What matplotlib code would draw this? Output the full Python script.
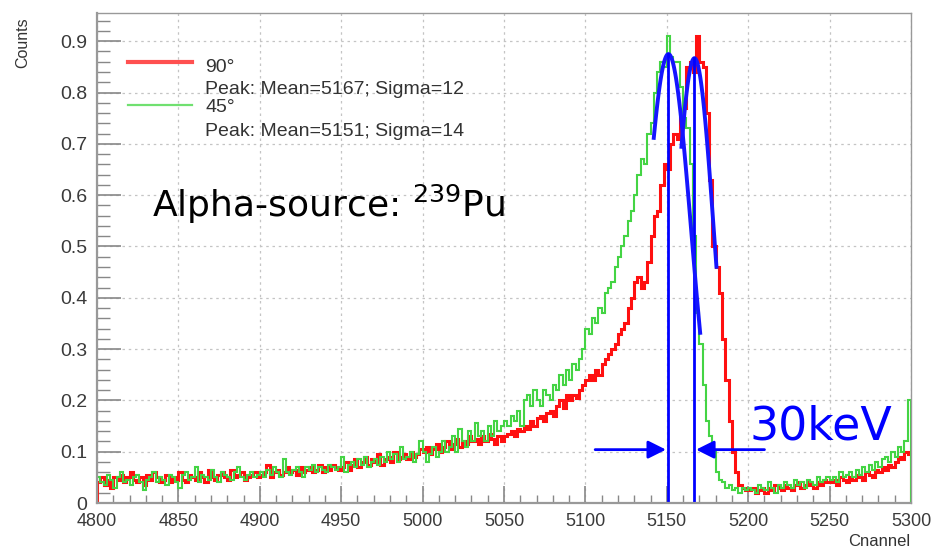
import numpy as np
import matplotlib
matplotlib.use("Agg")
import matplotlib.pyplot as plt

# histogram: 2-channel bins from 4800 to 5300
edges = np.arange(4800, 5302, 2)

# 45 degree spectrum (green)
green = [
    0.05, 0.04, 0.035, 0.055, 0.045, 0.03, 0.05, 0.06, 0.04, 0.045, 0.035, 0.05, 0.055, 0.04, 0.025, 0.045, 0.05, 0.06, 0.04, 0.05, 0.045, 0.035, 0.055, 0.05, 0.04,
    0.03, 0.055, 0.06, 0.045, 0.05, 0.07, 0.04, 0.055, 0.05, 0.045, 0.065, 0.05, 0.04, 0.06, 0.055, 0.05, 0.045, 0.06, 0.07, 0.05, 0.045, 0.055, 0.06, 0.05, 0.055,
    0.06, 0.05, 0.065, 0.055, 0.07, 0.06, 0.05, 0.085, 0.06, 0.055, 0.065, 0.07, 0.06, 0.05, 0.07, 0.065, 0.075, 0.06, 0.07, 0.065, 0.06, 0.075, 0.07, 0.065, 0.07,
    0.09, 0.06, 0.075, 0.08, 0.07, 0.085, 0.075, 0.09, 0.07, 0.08, 0.085, 0.075, 0.09, 0.08, 0.1, 0.085, 0.095, 0.08, 0.11, 0.085, 0.09, 0.1, 0.08, 0.095, 0.12,
    0.1, 0.08, 0.095, 0.11, 0.09, 0.1, 0.12, 0.1, 0.11, 0.13, 0.1, 0.145, 0.12, 0.11, 0.14, 0.12, 0.155, 0.13, 0.14, 0.12, 0.15, 0.13, 0.16, 0.14, 0.15,
    0.16, 0.15, 0.17, 0.16, 0.18, 0.15, 0.2, 0.21, 0.19, 0.22, 0.2, 0.19, 0.22, 0.21, 0.2, 0.23, 0.22, 0.25, 0.23, 0.26, 0.24, 0.27, 0.26, 0.28, 0.3,
    0.34, 0.33, 0.36, 0.35, 0.38, 0.37, 0.41, 0.42, 0.43, 0.46, 0.48, 0.5, 0.52, 0.55, 0.57, 0.6, 0.64, 0.67, 0.66, 0.72, 0.74, 0.8, 0.84, 0.86, 0.85,
    0.91, 0.87, 0.86, 0.86, 0.81, 0.75, 0.73, 0.66, 0.52, 0.37, 0.31, 0.23, 0.16, 0.13, 0.1, 0.06, 0.045, 0.04, 0.03, 0.035, 0.025, 0.03, 0.02, 0.03, 0.025,
    0.03, 0.025, 0.02, 0.035, 0.03, 0.025, 0.04, 0.03, 0.02, 0.035, 0.03, 0.04, 0.035, 0.03, 0.045, 0.035, 0.04, 0.03, 0.045, 0.04, 0.035, 0.05, 0.04, 0.045, 0.05,
    0.045, 0.05, 0.04, 0.06, 0.05, 0.055, 0.06, 0.05, 0.065, 0.055, 0.07, 0.06, 0.075, 0.065, 0.08, 0.07, 0.085, 0.09, 0.08, 0.1, 0.09, 0.11, 0.1, 0.12, 0.2,
]

# 90 degree spectrum (red)
red = [
    0.04, 0.05, 0.035, 0.045, 0.03, 0.05, 0.045, 0.055, 0.04, 0.05, 0.06, 0.045, 0.04, 0.05, 0.035, 0.055, 0.045, 0.06, 0.05, 0.04, 0.045, 0.055, 0.04, 0.05, 0.045,
    0.06, 0.045, 0.04, 0.055, 0.05, 0.045, 0.06, 0.05, 0.04, 0.065, 0.05, 0.045, 0.055, 0.06, 0.05, 0.045, 0.065, 0.05, 0.055, 0.06, 0.045, 0.05, 0.055, 0.06, 0.05,
    0.055, 0.06, 0.075, 0.05, 0.06, 0.065, 0.055, 0.06, 0.07, 0.06, 0.065, 0.055, 0.07, 0.06, 0.065, 0.07, 0.06, 0.065, 0.075, 0.06, 0.07, 0.065, 0.075, 0.07, 0.065,
    0.07, 0.08, 0.065, 0.075, 0.085, 0.07, 0.08, 0.09, 0.075, 0.085, 0.08, 0.095, 0.075, 0.085, 0.09, 0.08, 0.1, 0.085, 0.09, 0.095, 0.085, 0.1, 0.09, 0.095, 0.105,
    0.1, 0.11, 0.095, 0.105, 0.115, 0.1, 0.11, 0.12, 0.105, 0.115, 0.125, 0.11, 0.12, 0.115, 0.13, 0.12, 0.125, 0.115, 0.13, 0.12, 0.135, 0.125, 0.115, 0.13, 0.12,
    0.13, 0.135, 0.14, 0.13, 0.145, 0.14, 0.15, 0.145, 0.16, 0.15, 0.165, 0.17, 0.16, 0.175, 0.18, 0.17, 0.19, 0.2, 0.185, 0.21, 0.2, 0.21, 0.205, 0.22, 0.23,
    0.24, 0.25, 0.24, 0.26, 0.25, 0.27, 0.28, 0.29, 0.3, 0.31, 0.33, 0.34, 0.35, 0.38, 0.4, 0.43, 0.44, 0.42, 0.43, 0.47, 0.52, 0.56, 0.57, 0.62, 0.66,
    0.65, 0.7, 0.72, 0.71, 0.75, 0.77, 0.85, 0.86, 0.84, 0.91, 0.86, 0.85, 0.76, 0.63, 0.5, 0.46, 0.41, 0.32, 0.24, 0.16, 0.1, 0.06, 0.035, 0.03, 0.025,
    0.025, 0.03, 0.02, 0.025, 0.03, 0.02, 0.03, 0.025, 0.035, 0.03, 0.025, 0.035, 0.03, 0.025, 0.035, 0.04, 0.03, 0.035, 0.04, 0.035, 0.03, 0.04, 0.035, 0.045, 0.04,
    0.04, 0.045, 0.035, 0.05, 0.045, 0.04, 0.05, 0.045, 0.055, 0.05, 0.045, 0.06, 0.055, 0.05, 0.065, 0.06, 0.07, 0.065, 0.075, 0.07, 0.08, 0.09, 0.085, 0.1, 0.095,
]

# gaussian fits: mean, sigma, amplitude, fit range
fit_mean = [5167, 5151]
fit_sigma = [12, 14]
fit_amp = [0.867, 0.875]
fit_range = [(5159, 5180.5), (5142, 5170.5)]

xticks = [4800, 4850, 4900, 4950, 5000, 5050, 5100, 5150, 5200, 5250, 5300]
yticks = [0, 0.1, 0.2, 0.3, 0.4, 0.5, 0.6, 0.7, 0.8, 0.9]
ylabels = ["0", "0.1", "0.2", "0.3", "0.4", "0.5", "0.6", "0.7", "0.8", "0.9"]

W, H = 935, 548
fig = plt.figure(figsize=(W / 100, H / 100), dpi=100)
ax = fig.add_axes([97 / W, 45 / H, 814 / W, 490 / H])

ax.stairs(red, edges, color="#ff1010", lw=2.2)
ax.stairs(green, edges, color="#44d444", lw=1.5)

for m, s, a, (lo, hi) in zip(fit_mean, fit_sigma, fit_amp, fit_range):
    xf = np.linspace(lo, hi, 100)
    ax.plot(xf, a * np.exp(-0.5 * ((xf - m) / s) ** 2), color="#1515ff", lw=2.8)
    ax.plot([m, m], [0, a], color="#0000ff", lw=2)

# 30 keV arrows
arr = dict(arrowstyle="-|>,head_length=0.9,head_width=0.45", mutation_scale=12,
           color="#0000ff", lw=2, shrinkA=0, shrinkB=0)
ax.annotate("", xy=(5149.5, 0.104), xytext=(5106, 0.104), arrowprops=arr)
ax.annotate("", xy=(5168, 0.104), xytext=(5210, 0.104), arrowprops=arr)

ax.text(5201, 0.1235, "30keV", color="#0000ff", fontsize=33,
        family="DejaVu Sans", va="baseline", ha="left")
ax.text(4834, 0.558, r"Alpha-source: $^{239}$Pu", color="black", fontsize=26,
        family="DejaVu Sans", va="baseline", ha="left")

ax.set_xlim(4800, 5300)
ax.set_ylim(0, 0.955)
ax.set_xticks(xticks)
ax.set_xticklabels([str(t) for t in xticks])
ax.set_yticks(yticks)
ax.set_yticklabels(ylabels)
ax.set_xticks(np.arange(4800, 5301, 10), minor=True)
ax.set_yticks(np.arange(0, 0.951, 0.02), minor=True)

ax.tick_params(axis="both", which="both", direction="in", colors="#888888",
               top=False, right=False)
ax.tick_params(axis="y", which="major", length=17, width=1.2, pad=7,
               labelsize=14, labelcolor="#3a3a3a")
ax.tick_params(axis="y", which="minor", length=9, width=1)
ax.tick_params(axis="x", which="major", length=12, width=1.2, pad=7,
               labelsize=13, labelcolor="#3a3a3a")
ax.tick_params(axis="x", which="minor", length=6, width=1)
for lab in ax.get_xticklabels() + ax.get_yticklabels():
    lab.set_family("Liberation Sans")

for sp in ax.spines.values():
    sp.set_color("#999999")
    sp.set_linewidth(1)
ax.spines["left"].set_linewidth(1.6)
ax.spines["bottom"].set_linewidth(1.6)

ax.grid(True, which="major", color="#c4c4c4", linestyle=(0, (2, 3)), lw=0.9)
ax.set_axisbelow(True)

# legend (ROOT style box without border)
fig.add_artist(plt.Line2D([128 / W, 192 / W], [1 - 62 / H, 1 - 62 / H],
                          color="#ff5050", lw=3))
fig.add_artist(plt.Line2D([128 / W, 192 / W], [1 - 105 / H, 1 - 105 / H],
                          color="#70e070", lw=1.6))
leg_txt = [("90°", 67), ("Peak: Mean=5167; Sigma=12", 89),
           ("45°", 108), ("Peak: Mean=5151; Sigma=14", 131)]
for t, py in leg_txt:
    fig.text(205 / W, 1 - py / H, t, fontsize=14, family="Liberation Sans",
             color="#333333", va="center", ha="left")

fig.text(23 / W, 1 - 43 / H, "Counts", rotation=90, fontsize=11.5,
         family="Liberation Sans", color="#333333", ha="center", va="center")
fig.text(910 / W, 1 - 541 / H, "Cnannel", fontsize=12,
         family="Liberation Sans", color="#333333", ha="right", va="center")

fig.savefig("out.png", dpi=100)
